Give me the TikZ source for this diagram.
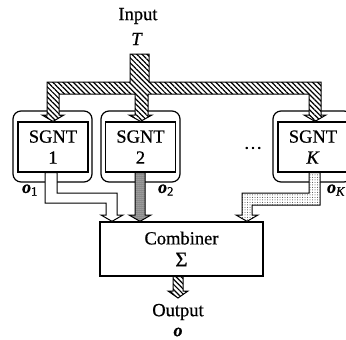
\documentclass[tikz,border=0pt]{standalone}
\usepackage{fontspec}
\setmainfont{Liberation Serif}[FakeBold=0.7]
\usetikzlibrary{patterns.meta,calc}
\begin{document}
\begin{tikzpicture}[x=1pt,y=-1pt,
  txt/.style={inner sep=0pt,font=\fontsize{18.5}{21}\selectfont},
  lbl/.style={inner sep=0pt,font=\fontsize{18}{18}\selectfont\bfseries\itshape},
  sgnt/.style={draw,line width=1.2pt,minimum width=70pt,minimum height=50pt,inner sep=0pt,align=center,font=\fontsize{18.5}{21}\selectfont},
  frame/.style={draw,line width=1.2pt,rounded corners=8pt},
  comb/.style={draw,line width=1.3pt,minimum width=163pt,minimum height=54pt,inner sep=0pt,align=center,font=\fontsize{18.5}{21}\selectfont},
  fat/.style={draw,line width=1pt,line join=miter},
  hatch/.style={fat,preaction={fill=white},pattern={Lines[angle=-45,distance=3.6pt,line width=1.2pt]}},
  darkdots/.style={fat,preaction={fill=black!50},pattern={Dots[distance=2pt,radius=0.5pt]},pattern color=white},
  lightdots/.style={fat,preaction={fill=white},pattern={Dots[distance=2.5pt,radius=0.5pt]},pattern color=black!75},
  plain/.style={fat,fill=white}
]
\useasboundingbox (0,0) rectangle (346,340);
\begin{scope}
\clip (0,0) rectangle (346,340);
% outer frames
\draw[frame] (13,111) rectangle (92,182);
\draw[frame] (101,111) rectangle (180,182);
\draw[frame] (273,111) rectangle (352,182);
% inner SGNT boxes
\node[sgnt] (s1) at (53,147) {SGNT\\1};
\node[sgnt] (s2) at (140.5,147) {SGNT\\2};
\node[sgnt] (sk) at (313,147) {SGNT\\\textit{K}};
\end{scope}
\node[txt] (dots) at (253,148) {\dots};
% combiner
\node[comb] (c) at (181.5,249) {Combiner\\[1pt]{\fontsize{21}{21}\selectfont Σ}};
% labels
\node[txt] (in) at (138,16) {Input};
\node[txt] (T) at (137,39) {\textit{T}};
\node[txt] (out) at (178,312) {Output};
\node[lbl] (o) at (178,332) {o};
\node[lbl] (o1) at (30,190) {o\textsubscript{\normalfont 1}};
\node[lbl] (o2) at (166,190) {o\textsubscript{\normalfont 2}};
\node[lbl] (oK) at (336,190) {o\textsubscript{\normalfont\itshape K}};
% input distribution tree
\draw[hatch] (130,54) -- (149,54) -- (149,82) -- (321,82) -- (321,115) -- (326,115)
  -- (sk.north -| 315,0) -- (304,115) -- (309,115) -- (309,94) -- (148,94) -- (148,115)
  -- (152,115) -- (s2.north) -- (129,115) -- (135,115) -- (135,94) -- (59,94)
  -- (59,115) -- (64,115) -- (s1.north) -- (42,115) -- (47,115) -- (47,82) -- (130,82) -- cycle;
% output arrows
\draw[plain] (s1.south -| 45,0) -- (45,203) -- (106,203) -- (106,215) -- (101,215)
  -- (c.north -| 112,0) -- (123,215) -- (117,215) -- (117,193) -- (57,193) -- (s1.south -| 57,0) -- cycle;
\draw[darkdots] (s2.south -| 135,0) -- (135,215) -- (129,215) -- (c.north -| 140,0)
  -- (151,215) -- (145,215) -- (s2.south -| 145,0) -- cycle;
\draw[lightdots] (sk.south -| 309,0) -- (309,193) -- (242,193) -- (242,215) -- (236,215)
  -- (c.north -| 247,0) -- (258,215) -- (252,215) -- (252,205) -- (320,205) -- (sk.south -| 320,0) -- cycle;
% final output
\draw[hatch] (c.south -| 173,0) -- (173,291) -- (168,291) -- (178,298) -- (188,291)
  -- (183,291) -- (c.south -| 183,0) -- cycle;
\end{tikzpicture}
\end{document}
